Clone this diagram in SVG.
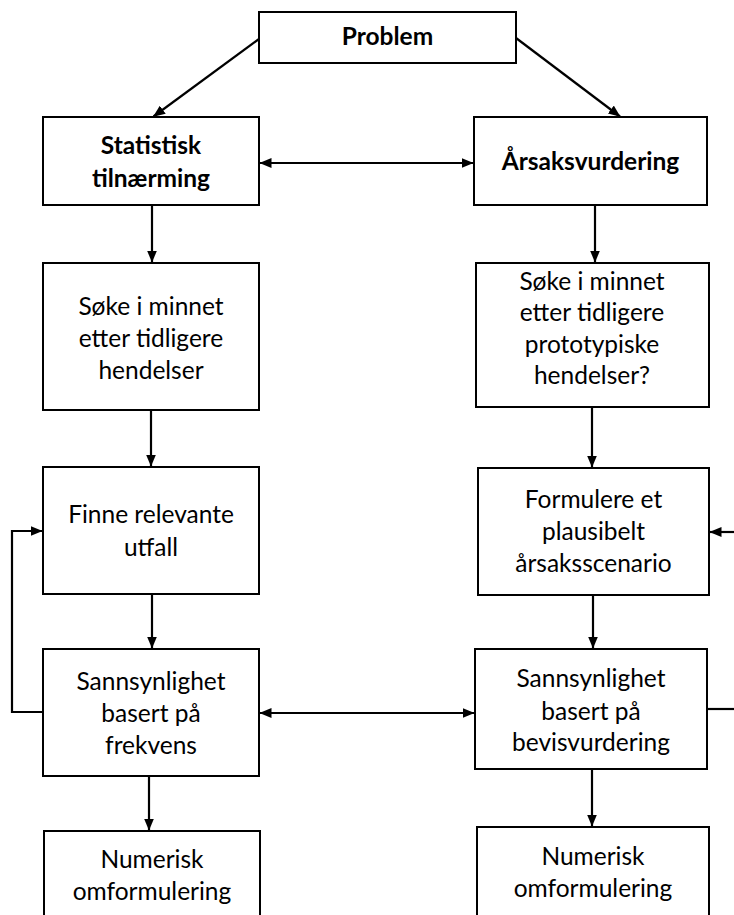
<svg xmlns="http://www.w3.org/2000/svg" width="734" height="915" viewBox="0 0 734 915">
<style>
.box{fill:#fff;stroke:#000;stroke-width:2}
.t{font-family:Lato,"Liberation Sans",sans-serif;font-size:24.5px;fill:#000;text-anchor:middle}
.b{font-weight:bold}
.c{fill:none;stroke:#000;stroke-width:2.2}
</style>
<defs>
<marker id="ah" viewBox="0 0 12 10" refX="11.5" refY="5" markerWidth="12" markerHeight="10" markerUnits="userSpaceOnUse" orient="auto-start-reverse">
<path d="M0,0 L12,5 L0,10 z" fill="#000"/>
</marker>
</defs>
<rect width="734" height="915" fill="#fff"/>
<g id="connectors">
<line class="c" x1="259" y1="39" x2="153.5" y2="116.5" marker-end="url(#ah)"/>
<line class="c" x1="516" y1="38" x2="620" y2="116.5" marker-end="url(#ah)"/>
<line class="c" x1="260" y1="163" x2="473" y2="163" marker-start="url(#ah)" marker-end="url(#ah)"/>
<line class="c" x1="152" y1="205" x2="152" y2="262" marker-end="url(#ah)"/>
<line class="c" x1="595" y1="205" x2="595" y2="262" marker-end="url(#ah)"/>
<line class="c" x1="151" y1="410" x2="151" y2="466" marker-end="url(#ah)"/>
<line class="c" x1="592" y1="407" x2="592" y2="467" marker-end="url(#ah)"/>
<line class="c" x1="152" y1="594" x2="152" y2="648" marker-end="url(#ah)"/>
<line class="c" x1="593" y1="595" x2="593" y2="648" marker-end="url(#ah)"/>
<line class="c" x1="149" y1="776" x2="149" y2="830" marker-end="url(#ah)"/>
<line class="c" x1="592" y1="769" x2="592" y2="826" marker-end="url(#ah)"/>
<polyline class="c" points="44,712 12,712 12,531 42,531" marker-end="url(#ah)"/>
<line class="c" x1="260" y1="713" x2="474" y2="713" marker-start="url(#ah)" marker-end="url(#ah)"/>
<line class="c" x1="707" y1="709" x2="734" y2="709"/>
<line class="c" x1="734" y1="532" x2="710" y2="532" marker-end="url(#ah)"/>
</g>
<g id="problem">
<rect class="box" x="259" y="12" width="257" height="51"/>
<text class="t b" x="387.5" y="45">Problem</text>
</g>
<g id="statistisk">
<rect class="box" x="43" y="117" width="216" height="88"/>
<text class="t b" x="151" y="154">Statistisk</text>
<text class="t b" x="151" y="187">tilnærming</text>
</g>
<g id="arsak">
<rect class="box" x="474" y="117" width="233" height="88"/>
<text class="t b" x="590.5" y="170">Årsaksvurdering</text>
</g>
<g id="soke-l">
<rect class="box" x="43" y="263" width="216" height="147"/>
<text class="t" x="151" y="315">Søke i minnet</text>
<text class="t" x="151" y="347">etter tidligere</text>
<text class="t" x="151" y="379">hendelser</text>
</g>
<g id="soke-r">
<rect class="box" x="476" y="263" width="233" height="144"/>
<text class="t" x="592" y="290">Søke i minnet</text>
<text class="t" x="592" y="321">etter tidligere</text>
<text class="t" x="592" y="353">prototypiske</text>
<text class="t" x="592" y="384">hendelser?</text>
</g>
<g id="finne">
<rect class="box" x="43" y="467" width="216" height="127"/>
<text class="t" x="151" y="523">Finne relevante</text>
<text class="t" x="151" y="556">utfall</text>
</g>
<g id="formulere">
<rect class="box" x="478" y="468" width="231" height="127"/>
<text class="t" x="593.5" y="508">Formulere et</text>
<text class="t" x="593.5" y="540">plausibelt</text>
<text class="t" x="593.5" y="572">årsaksscenario</text>
</g>
<g id="sann-l">
<rect class="box" x="43" y="649" width="216" height="127"/>
<text class="t" x="151" y="690">Sannsynlighet</text>
<text class="t" x="151" y="722">basert på</text>
<text class="t" x="151" y="754">frekvens</text>
</g>
<g id="sann-r">
<rect class="box" x="475" y="649" width="232" height="120"/>
<text class="t" x="591" y="687">Sannsynlighet</text>
<text class="t" x="591" y="720">basert på</text>
<text class="t" x="591" y="751">bevisvurdering</text>
</g>
<g id="num-l">
<rect class="box" x="44" y="831" width="216" height="100"/>
<text class="t" x="152" y="868">Numerisk</text>
<text class="t" x="152" y="900">omformulering</text>
</g>
<g id="num-r">
<rect class="box" x="477" y="827" width="232" height="100"/>
<text class="t" x="593" y="865">Numerisk</text>
<text class="t" x="593" y="897">omformulering</text>
</g>
</svg>
